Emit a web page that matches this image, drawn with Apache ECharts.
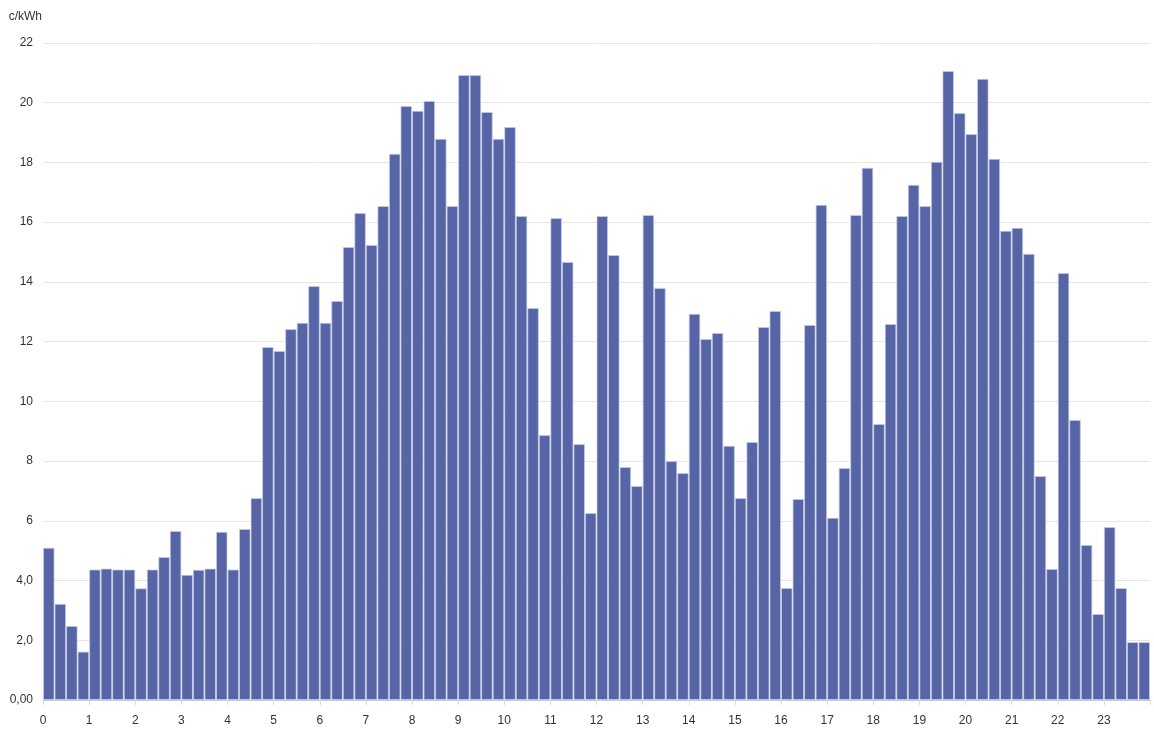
<!DOCTYPE html>
<html>
<head>
<meta charset="utf-8">
<script src="https://cdn.jsdelivr.net/npm/echarts@6/dist/echarts.min.js"></script>
<style>
html,body{margin:0;padding:0;background:#fff;}
#chart{width:1154px;height:748px;}
</style>
</head>
<body>
<div id="chart"></div>
<script>
// 15-minute price slots, 96 per day
const slotsPerHour = 4;
const prices = [
  5.1, 3.22, 2.48, 1.62,
  4.37, 4.4, 4.37, 4.37,
  3.74, 4.37, 4.79, 5.66,
  4.19, 4.36, 4.4, 5.63,
  4.37, 5.73, 6.76, 11.82,
  11.69, 12.42, 12.63, 13.86,
  12.63, 13.36, 15.17, 16.31,
  15.24, 16.54, 18.29, 19.89,
  19.73, 20.06, 18.79, 16.54,
  20.93, 20.93, 19.69, 18.79,
  19.19, 16.21, 13.13, 8.87,
  16.14, 14.67, 8.57, 6.26,
  16.21, 14.9, 7.8, 7.17,
  16.24, 13.8, 8.0, 7.6,
  12.93, 12.09, 12.29, 8.51,
  6.76, 8.64, 12.49, 13.03,
  3.75, 6.73, 12.56, 16.58,
  6.1, 7.77, 16.24, 17.82,
  9.24, 12.59, 16.21, 17.25,
  16.54, 18.02, 21.06, 19.66,
  18.95, 20.8, 18.12, 15.71,
  15.81, 14.94, 7.5, 4.39,
  14.3, 9.38, 5.19, 2.88,
  5.79, 3.75, 1.94, 1.94
];
const yTickLabels = {0:'0,00', 2:'2,0', 4:'4,0', 6:'6', 8:'8', 10:'10', 12:'12', 14:'14', 16:'16', 18:'18', 20:'20', 22:'22'};
const unitName = 'c/kWh';

const barData = prices.map((v, i) => [(i + 0.5) / slotsPerHour, v]);

const chart = echarts.init(document.getElementById('chart'));
const font = "'Liberation Sans', Arial, sans-serif";
chart.setOption({
  animation: false,
  textStyle: {fontFamily: font},
  grid: {left: 43, right: 4, top: 43, bottom: 48, containLabel: false},
  xAxis: {
    type: 'value', min: 0, max: 24, interval: 1,
    axisLine: {show: true, lineStyle: {color: '#c4c7dc', width: 1}},
    axisTick: {show: true, length: 5, lineStyle: {color: '#ddd'}},
    axisLabel: {color: '#333', fontSize: 12, margin: 15, fontFamily: font,
      formatter: v => (v >= 24 ? '' : String(v))},
    splitLine: {show: false}
  },
  yAxis: {
    type: 'value', min: 0, max: 22, interval: 2,
    name: unitName, nameLocation: 'end', nameGap: 26,
    nameTextStyle: {color: '#333', fontSize: 12, align: 'right', verticalAlign: 'middle', fontFamily: font, padding: [0, 1, 0, 0]},
    axisLine: {show: false}, axisTick: {show: false},
    axisLabel: {color: '#333', fontSize: 12, margin: 10, fontFamily: font,
      formatter: v => yTickLabels[v] !== undefined ? yTickLabels[v] : String(v)},
    splitLine: {lineStyle: {color: '#e6e6e6', width: 1}}
  },
  series: [{
    type: 'bar',
    data: barData,
    barWidth: '100%',
    barCategoryGap: '0%',
    itemStyle: {color: '#5764a5', borderColor: 'rgba(200,205,235,0.7)', borderWidth: 1}
  }]
});
</script>
</body>
</html>
